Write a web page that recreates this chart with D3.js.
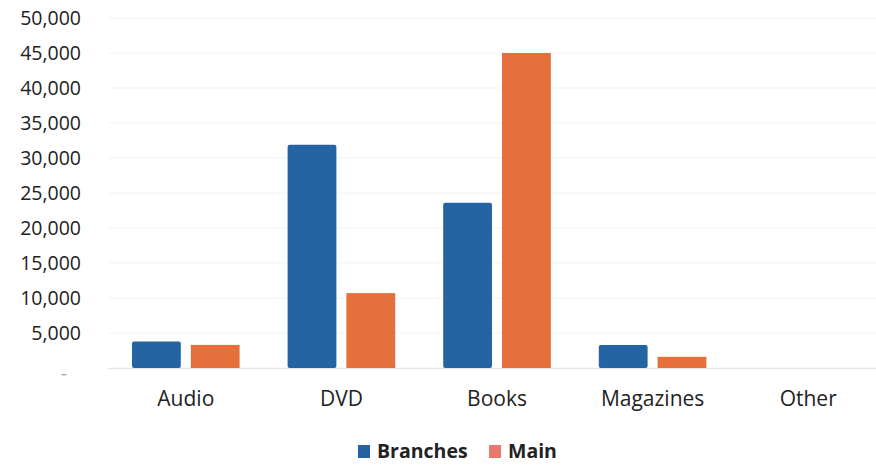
<!DOCTYPE html>
<html><head><meta charset="utf-8">
<script src="https://cdn.jsdelivr.net/npm/d3@7"></script>
<style>body{margin:0;background:#fff;font-family:"Open Sans",sans-serif;}</style>
</head><body><svg id="c" width="876" height="465"></svg>
<script>
const categories = ["Audio","DVD","Books","Magazines","Other"];
const seriesNames = ["Branches","Main"];
const branches = [3800, 31900, 23600, 3300, 0];
const main = [3300, 10700, 45000, 1600, 0];
const yTicks = [0,5000,10000,15000,20000,25000,30000,35000,40000,45000,50000];
const colors = ["#2564a3","#e5703b"];
const legendColors = ["#2564a3","#e8796c"];

const svg = d3.select("#c");
const x = d3.scaleBand().domain(categories).range([108,886]).paddingInner(0).paddingOuter(0);
const x1 = d3.scaleBand().domain(seriesNames).range([24, x.bandwidth()-24]).paddingInner(0.17);
const y = d3.scaleLinear().domain([0,50000]).range([368,18]);

// gridlines
svg.append("g").selectAll("line").data(yTicks.slice(1)).join("line")
  .attr("x1",108).attr("x2",876).attr("y1",d=>y(d)).attr("y2",d=>y(d))
  .attr("stroke","#f3f3f3").attr("stroke-width",1);
svg.append("line").attr("x1",108).attr("x2",876).attr("y1",y(0)+0.5).attr("y2",y(0)+0.5)
  .attr("stroke","#e6e6e6").attr("stroke-width",1.5);

// y axis
const fmt = d3.format(",");
const yAxis = d3.axisLeft(y).tickValues(yTicks).tickSize(0).tickPadding(0)
  .tickFormat(d => d===0 ? "-" : fmt(d));
const ya = svg.append("g").attr("transform","translate(81,0)").call(yAxis);
ya.select(".domain").remove();
ya.selectAll("text").attr("font-family","Open Sans, sans-serif").attr("font-size",19.5)
  .attr("fill",d=>d===0?"#aaa":"#222")
  .attr("dx",d=>d===0?-14:0).attr("dy",d=>d===0?"0.6em":"0.32em");

// bars
const data = categories.map((c,i)=>({cat:c, vals:[branches[i], main[i]]}));
const g = svg.append("g");
const grp = g.selectAll("g").data(data).join("g").attr("transform",d=>`translate(${x(d.cat)},0)`);
grp.selectAll("rect").data(d=>d.vals.map((v,j)=>({s:seriesNames[j],v,j}))).join("rect")
  .attr("x",d=>x1(d.s)).attr("width",x1.bandwidth())
  .attr("y",d=>y(d.v)).attr("height",d=>y(0)-y(d.v))
  .attr("fill",d=>colors[d.j]).attr("rx",d=>d.j===0?2:0);

// x axis
const xAxis = d3.axisBottom(x).tickSize(0).tickPadding(0);
const xa = svg.append("g").attr("transform","translate(0,406)").call(xAxis);
xa.select(".domain").remove();
xa.selectAll("text").attr("font-family","Open Sans, sans-serif").attr("font-size",21)
  .attr("fill","#222").attr("dy","0");

// legend
const leg = svg.append("g").attr("transform","translate(358,451)");
const legX = [0,131];
seriesNames.forEach((s,i)=>{
  leg.append("rect").attr("x",legX[i]).attr("y",-6).attr("width",12).attr("height",13).attr("fill",legendColors[i]);
  leg.append("text").attr("x",legX[i]+19).attr("y",7).attr("font-family","Open Sans, sans-serif")
    .attr("font-weight","bold").attr("font-size",19.5).attr("fill","#222").text(s);
});
</script></body></html>
